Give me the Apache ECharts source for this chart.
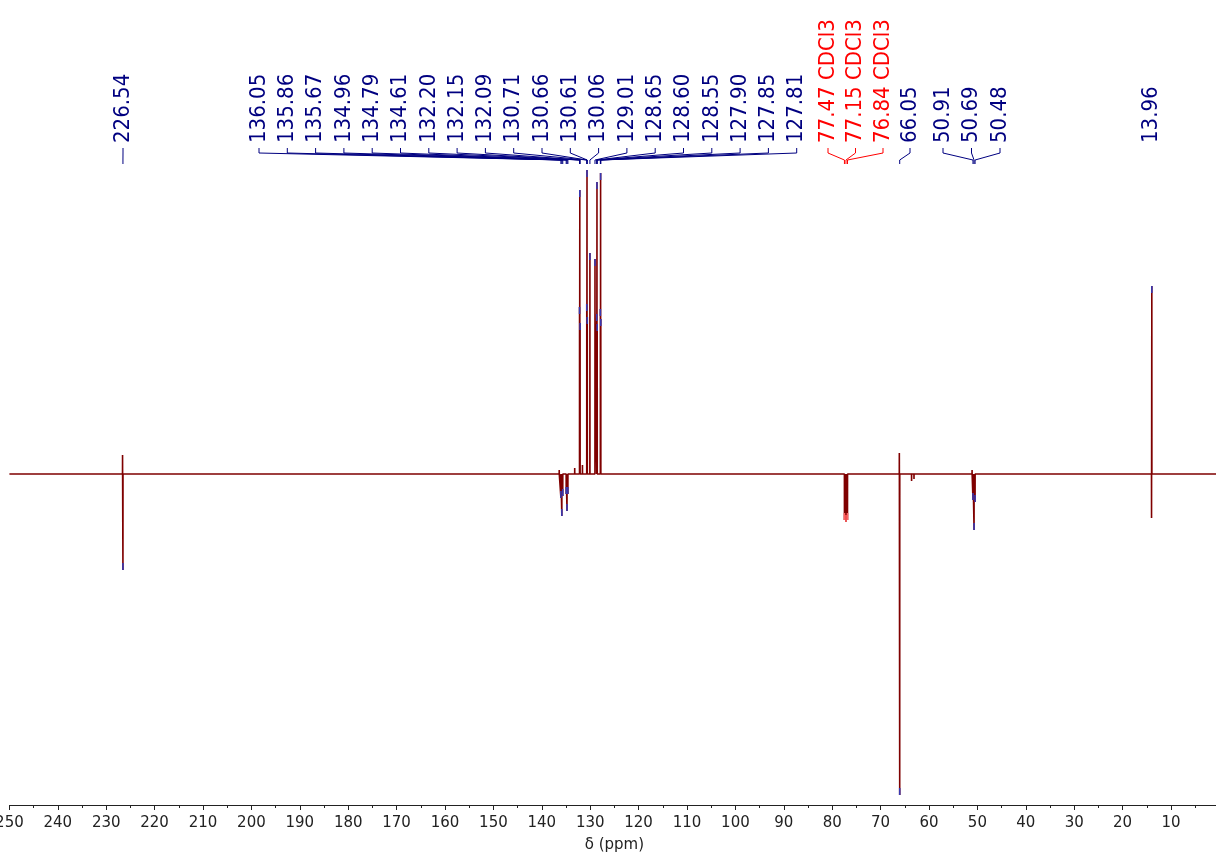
<!DOCTYPE html>
<html>
<head>
<meta charset="utf-8">
<title>13C APT spectrum</title>
<script src="https://cdn.jsdelivr.net/npm/echarts@6/dist/echarts.min.js"></script>
<style>
  html, body { margin: 0; padding: 0; background: #fff; }
  #chart-container { width: 1216px; height: 856px; }
</style>
</head>
<body>
<div id="chart-container"></div>
<script>
// picked peaks (ppm) and their heights
var peakPpm = [226.54, 136.05, 135.86, 135.67, 134.96, 134.79, 134.61,
  132.20, 132.15, 132.09, 130.71, 130.66, 130.61, 130.06, 129.01,
  128.65, 128.60, 128.55, 127.90, 127.85, 127.81,
  77.47, 77.15, 76.84, 66.05, 50.91, 50.69, 50.48, 13.96];
var peakIntensity = [-96, -24, -42, -22, -20, -37, -20,
  167, 284, 151, 170, 304, 157, 221, 215,
  160, 292, 150, 165, 301, 155,
  -46, -48, -46, -321, -26, -56, -28, 188];
var peakLabels = ['226.54', '136.05', '135.86', '135.67', '134.96', '134.79', '134.61',
  '132.20', '132.15', '132.09', '130.71', '130.66', '130.61', '130.06', '129.01',
  '128.65', '128.60', '128.55', '127.90', '127.85', '127.81',
  '77.47 CDCl3', '77.15 CDCl3', '76.84 CDCl3', '66.05', '50.91', '50.69', '50.48', '13.96'];

// unlabelled bits of the trace (phase wiggles, small impurities)
var extraPpm = [226.62, 136.4, 133.2, 131.6, 66.13, 63.6, 63.1, 51.1, 14.02, 6.4];
var extraIntensity = [19, 4, 6, 9, 21, -7, -5, 4, -44, 2];

var xMin = 0, xMax = 250;
var yMin = -331, yMax = 474;

// label layout: [first index, last index, x of first label, spacing, draw link]
var labelGroups = [
  [0, 0, 123, 0, true],
  [1, 20, 259, 28.3, true],
  [21, 23, 828, 27.5, true],
  [24, 24, 910, 0, true],
  [25, 27, 943, 28.5, true],
  [28, 28, 1151, 0, false]
];

var navy = '#000080';
var red = '#ff0000';
var labelFont = '"DejaVu Sans Condensed", "DejaVu Sans", sans-serif';
var axisFont = '"DejaVu Sans", sans-serif';

function isSolvent(i) {
  return peakLabels[i].indexOf('CDCl3') >= 0;
}

// stick trace built from the peak lists
var all = [];
peakPpm.forEach(function (p, i) { all.push([p, peakIntensity[i]]); });
extraPpm.forEach(function (p, i) { all.push([p, extraIntensity[i]]); });
all.sort(function (a, b) { return b[0] - a[0]; });
var d = 0.01;
var trace = [[xMax, 0]];
all.forEach(function (pk) {
  trace.push([pk[0] + d, 0]);
  trace.push([pk[0], pk[1]]);
  trace.push([pk[0] - d, 0]);
});
trace.push([xMin, 0]);

var labelX = [], labelLink = [];
labelGroups.forEach(function (g) {
  for (var i = g[0]; i <= g[1]; i++) {
    labelX[i] = g[2] + (i - g[0]) * g[3];
    labelLink[i] = g[4];
  }
});

var peakData = peakPpm.map(function (p, i) { return [p, peakIntensity[i], i]; });

var dom = document.getElementById('chart-container');
var myChart = echarts.init(dom, null, { renderer: 'canvas' });

var option = {
  animation: false,
  backgroundColor: '#fff',
  grid: { left: 9.4, right: -3.4, top: 0, bottom: 51, outerBoundsMode: 'none', containLabel: false },
  xAxis: {
    type: 'value',
    inverse: true,
    min: xMin,
    max: xMax,
    interval: 10,
    name: 'δ (ppm)',
    nameLocation: 'middle',
    nameGap: 33,
    nameTextStyle: { fontSize: 15, color: '#222', fontFamily: axisFont },
    axisLine: { onZero: false, lineStyle: { color: '#222', width: 1 } },
    axisTick: { length: 5, lineStyle: { color: '#222' } },
    minorTick: { show: true, splitNumber: 2, length: 3, lineStyle: { color: '#222' } },
    splitLine: { show: false },
    axisLabel: {
      showMinLabel: false,
      fontSize: 15,
      color: '#222',
      fontFamily: axisFont,
      margin: 11
    }
  },
  yAxis: {
    type: 'value',
    min: yMin,
    max: yMax,
    show: false,
    splitLine: { show: false }
  },
  series: [
    {
      type: 'line',
      data: trace,
      showSymbol: false,
      symbol: 'none',
      lineStyle: { color: '#7f0000', width: 1.6 },
      z: 2
    },
    {
      // peak-pick marks at the tips
      type: 'custom',
      data: peakData,
      z: 3,
      renderItem: function (params, api) {
        var i = api.value(2);
        var tip = api.coord([api.value(0), api.value(1)]);
        var dir = api.value(1) > 0 ? 1 : -1;
        return {
          type: 'line',
          shape: { x1: tip[0], y1: tip[1], x2: tip[0], y2: tip[1] + dir * 7 },
          style: { stroke: isSolvent(i) ? '#ff6060' : '#3838b0', lineWidth: 1.6 }
        };
      }
    },
    {
      // rotated peak labels with their links
      type: 'custom',
      data: peakData,
      clip: false,
      z: 4,
      renderItem: function (params, api) {
        var i = api.value(2);
        var px = api.coord([api.value(0), 0])[0];
        var lx = labelX[i];
        var color = isSolvent(i) ? red : navy;
        var children = [{
          type: 'text',
          x: lx,
          y: 143,
          rotation: Math.PI / 2,
          style: {
            text: peakLabels[i],
            fill: color,
            fontSize: 22,
            fontFamily: labelFont,
            align: 'left',
            verticalAlign: 'middle'
          }
        }];
        if (labelLink[i]) {
          children.push({
            type: 'polyline',
            shape: { points: [[lx, 148], [lx, 153], [px, 160], [px, 164]] },
            style: { stroke: color, fill: null, lineWidth: 1 }
          });
        }
        return { type: 'group', children: children };
      }
    }
  ]
};

myChart.setOption(option);
window.addEventListener('resize', myChart.resize);
</script>
</body>
</html>
